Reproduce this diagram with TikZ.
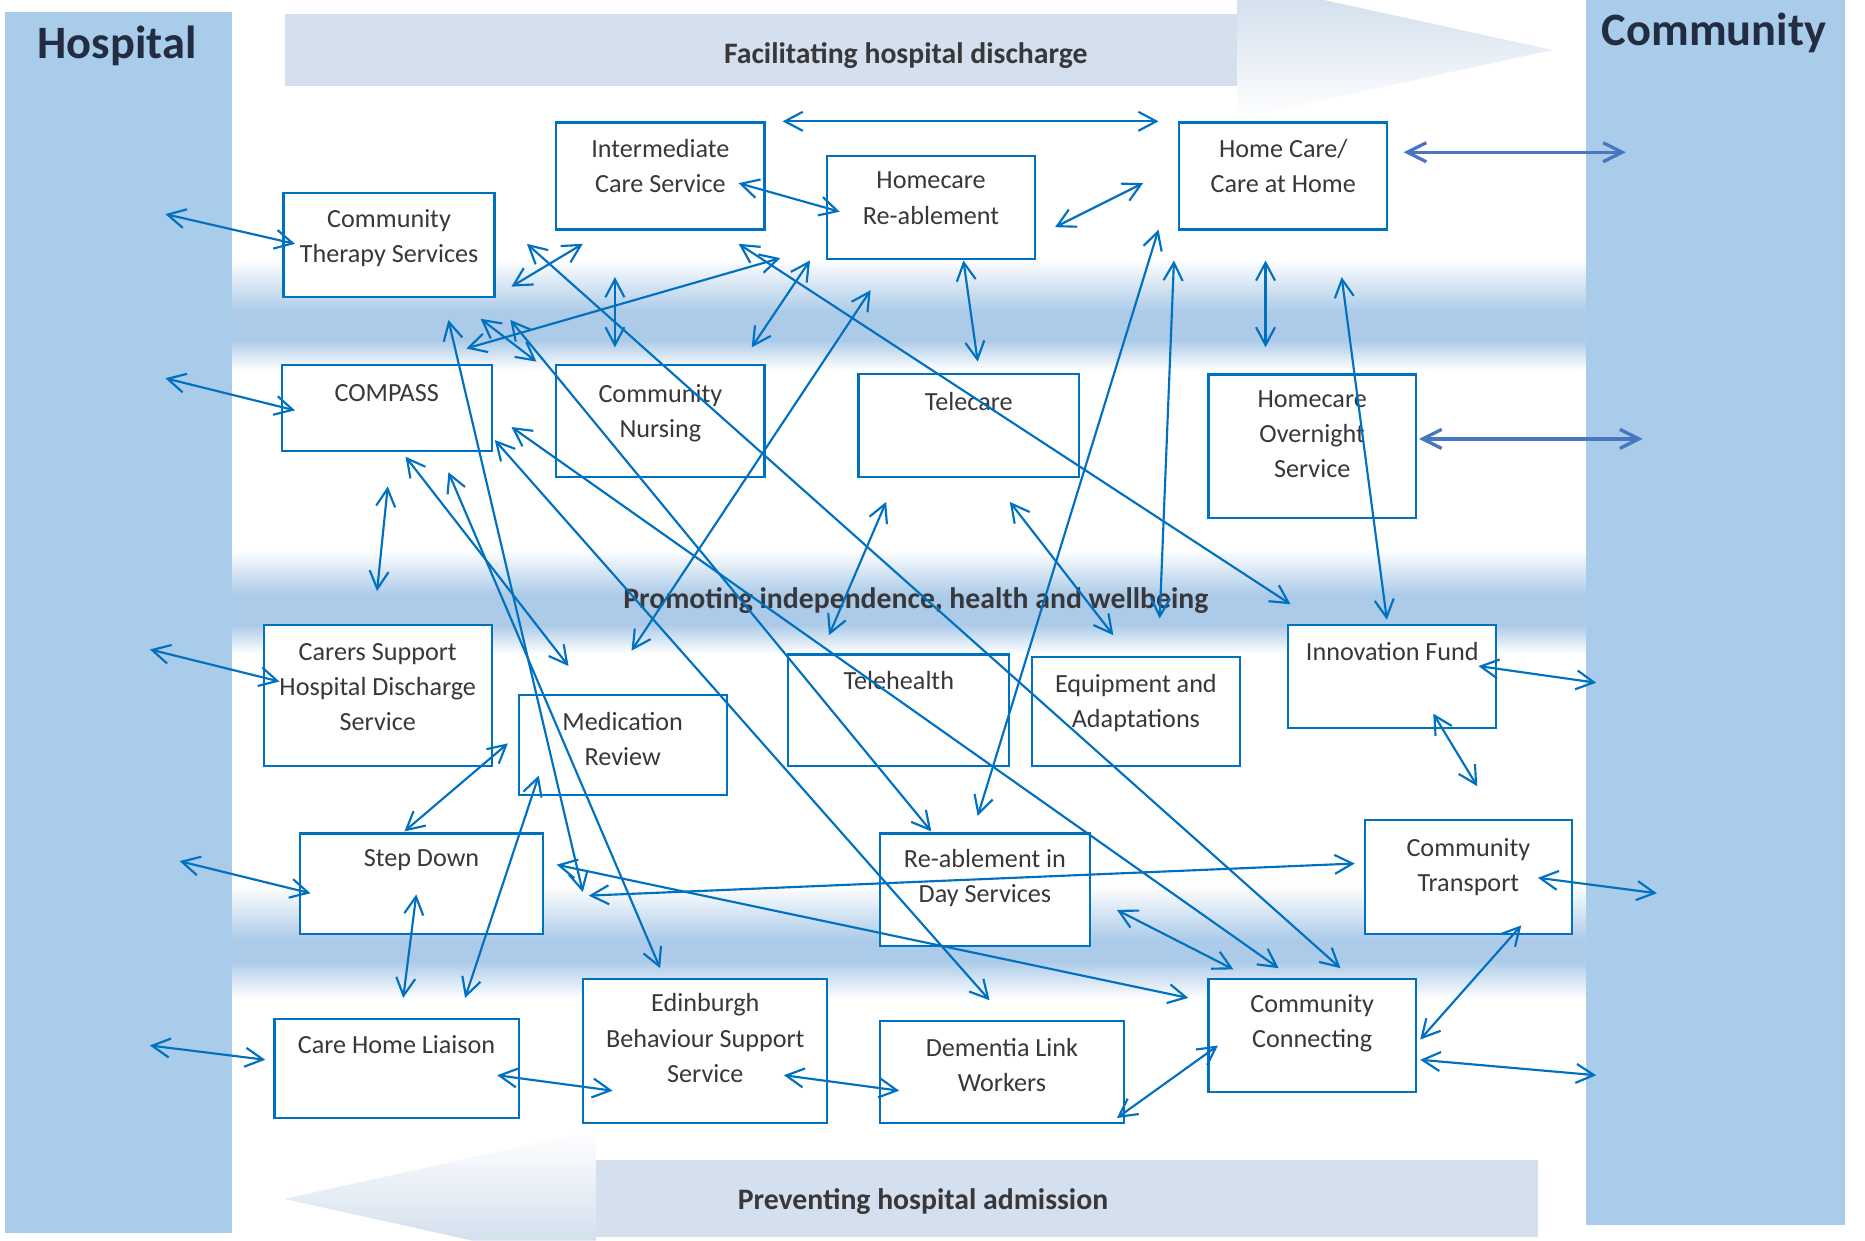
\documentclass[tikz,border=0pt]{standalone}
\usepackage{fontspec}
\setmainfont{Carlito}
\usetikzlibrary{arrows.meta}
\definecolor{barblue}{RGB}{168,204,233}
\definecolor{bandblue}{RGB}{172,203,232}
\definecolor{bandlav}{RGB}{192,204,231}
\definecolor{arrowbody}{RGB}{212,224,238}
\definecolor{linkblue}{RGB}{0,112,192}
\definecolor{bigblue}{RGB}{72,118,192}
\definecolor{txtgray}{RGB}{56,56,60}
\definecolor{titlecol}{RGB}{35,45,65}
\begin{document}
\begin{tikzpicture}[x=1pt,y=-1pt,
  svc/.style={draw=linkblue, line width=1.8pt, fill=white, inner sep=0pt},
  svctxt/.style={anchor=base, align=center, text=txtgray, font=\fontsize{22}{29.5}\selectfont, inner sep=0pt, yshift=-2pt},
  link/.style={draw=linkblue, line width=1.8pt, {Straight Barb[length=15pt,width=16pt]}-{Straight Barb[length=15pt,width=16pt]}},
  biglink/.style={draw=bigblue, line width=2.8pt, {Straight Barb[length=16pt,width=16pt]}-{Straight Barb[length=16pt,width=16pt]}},
  section/.style={font=\fontsize{25}{30}\selectfont\bfseries, text=txtgray, anchor=base, inner sep=0pt},
  title/.style={font=\fontsize{39}{45}\selectfont\bfseries, text=titlecol, anchor=base, inner sep=0pt}
]
\useasboundingbox (0,0) rectangle (1568,1043);
\fill[white] (0,0) rectangle (1568,1043);
% horizontal bands
\foreach \ya/\yb/\yc/\yd in {218/262/286/311, 462/500/525/550, 745/790/808/840}{
  \shade[top color=white, middle color=bandlav, bottom color=bandblue] (195,\ya) rectangle (1333,\yb);
  \fill[bandblue] (195,\yb) rectangle (1333,\yc);
  \shade[top color=bandblue, middle color=bandlav, bottom color=white] (195,\yc) rectangle (1333,\yd);
}
% side bars
\fill[barblue] (4,10) rectangle (195,1037);
\fill[barblue] (1333,0) rectangle (1551,1030);
% top arrow
\fill[arrowbody] (240,12) rectangle (1041,72);
\shade[top color=arrowbody, bottom color=white] (1040,0) -- (1113,0) -- (1305,42) -- (1040,100) -- cycle;
% bottom arrow
\fill[arrowbody] (501,975) rectangle (1293,1040);
\shade[top color=white, bottom color=arrowbody] (501,950) -- (239,1008) -- (397,1043) -- (501,1043) -- cycle;
% titles
\node[title] (hosp) at (98.5,49) {Hospital};
\node[title] (comm) at (1441,38) {Community};
\node[section] (fhd) at (761.5,53) {Facilitating hospital discharge};
\node[section] (pih) at (770,511.5) {Promoting independence, health and wellbeing};
\node[section] (pha) at (776,1016.5) {Preventing hospital admission};
% boxes (text anchor = baseline of last line)
\node[svc, minimum width=175, minimum height=90] (ics) at (555.2,148) {};
\node[svctxt] (icst) at ([yshift=-58]ics.north) {Intermediate\\Care Service};
\node[svc, minimum width=174.4, minimum height=86.5] (hr) at (782.8,174.5) {};
\node[svctxt] (hrt) at ([yshift=-56]hr.north) {Homecare\\Re-ablement};
\node[svc, minimum width=175, minimum height=90] (hc) at (1078.9,148) {};
\node[svctxt] (hct) at ([yshift=-58]hc.north) {Home Care/\\Care at Home};
\node[svc, minimum width=177.4, minimum height=88] (cts) at (327.1,206) {};
\node[svctxt] (ctst) at ([yshift=-58]cts.north) {Community\\Therapy Services};
\node[svc, minimum width=176.4, minimum height=72] (compass) at (325.1,343) {};
\node[svctxt] (compasst) at ([yshift=-29.4]compass.north) {COMPASS};
\node[svc, minimum width=175, minimum height=94.4] (cn) at (555.2,354.1) {};
\node[svctxt] (cnt) at ([yshift=-59.5]cn.north) {Community\\Nursing};
\node[svc, minimum width=185.4, minimum height=86.5] (tc) at (814.5,358) {};
\node[svctxt] (tct) at ([yshift=-29.4]tc.north) {Telecare};
\node[svc, minimum width=174.4, minimum height=120.7] (hon) at (1103.2,375.2) {};
\node[svctxt] (hont) at ([yshift=-85.5]hon.north) {Homecare\\Overnight\\Service};
\node[svc, minimum width=191.5, minimum height=118.7] (cs) at (317.6,585) {};
\node[svctxt] (cst) at ([yshift=-87.5]cs.north) {Carers Support\\Hospital Discharge\\Service};
\node[svc, minimum width=175, minimum height=84] (med) at (523.5,626.6) {};
\node[svctxt] (medt) at ([yshift=-58]med.north) {Medication\\Review};
\node[svc, minimum width=185.8, minimum height=94] (th) at (755.7,597.3) {};
\node[svctxt] (tht) at ([yshift=-28.6]th.north) {Telehealth};
\node[svc, minimum width=175, minimum height=92] (eq) at (955,598.3) {};
\node[svctxt] (eqt) at ([yshift=-58]eq.north) {Equipment and\\Adaptations};
\node[svc, minimum width=175, minimum height=86] (inf) at (1170.6,568.7) {};
\node[svctxt] (inft) at ([yshift=-28.3]inf.north) {Innovation Fund};
\node[svc, minimum width=204.7, minimum height=84.8] (sd) at (354.4,743.2) {};
\node[svctxt] (sdt) at ([yshift=-26.5]sd.north) {Step Down};
\node[svc, minimum width=176.2, minimum height=94.8] (rd) at (828.1,748.2) {};
\node[svctxt] (rdt) at ([yshift=-57]rd.north) {Re-ablement in\\Day Services};
\node[svc, minimum width=174.4, minimum height=96.4] (ct) at (1234.5,737.4) {};
\node[svctxt] (ctt) at ([yshift=-59]ct.north) {Community\\Transport};
\node[svc, minimum width=205.2, minimum height=83.8] (chl) at (333.4,898.3) {};
\node[svctxt] (chlt) at ([yshift=-28.5]chl.north) {Care Home Liaison};
\node[svc, minimum width=205.2, minimum height=121] (eb) at (593,883.7) {};
\node[svctxt] (ebt) at ([yshift=-85.5]eb.north) {Edinburgh\\Behaviour Support\\Service};
\node[svc, minimum width=204.8, minimum height=85.5] (dl) at (842.4,901.5) {};
\node[svctxt] (dlt) at ([yshift=-57.5]dl.north) {Dementia Link\\Workers};
\node[svc, minimum width=174.4, minimum height=94.7] (cc) at (1103.2,870.6) {};
\node[svctxt] (cct) at ([yshift=-56.5]cc.north) {Community\\Connecting};
% connectors
\draw[biglink] (1180,128) -- (1367,128);
\draw[biglink] (1193,369) -- (1381,369);
\foreach \xa/\ya/\xb/\yb in {
 658/102/974/102, 621/154/706/178, 887/191/961/154,
 139/180/248/205, 139/318/248/345, 430/241/490/205,
 443/205/1127/814, 621/205/1085/508, 392/293/656/217,
 632/292/681/219, 517/233/517/292, 732/244/531/547,
 810/219/822/304, 1064/219/1064/292, 1128/233/1166/521,
 974/193/822/686, 987/219/975/520, 404/268/451/304,
 377/269/490/750, 341/384/478/560, 377/397/555/814,
 429/269/783/699, 430/359/1075/814, 416/370/832/841,
 326/409/317/497, 745/422/697/534, 849/422/936/534,
 1243/560/1342/574, 1205/600/1242/661, 427/625/340/699,
 453/652/391/839, 350/752/339/839, 468/727/999/839,
 495/753/1139/726, 939/765/1037/815, 1279/778/1194/874,
 1293/738/1393/751, 1194/891/1342/904, 939/940/1024/879,
 126/879/223/891, 418/904/515/917, 659/904/756/917,
 151/724/261/751, 126/546/235/573}
 \draw[link] (\xa,\ya) -- (\xb,\yb);
\end{tikzpicture}
\end{document}
